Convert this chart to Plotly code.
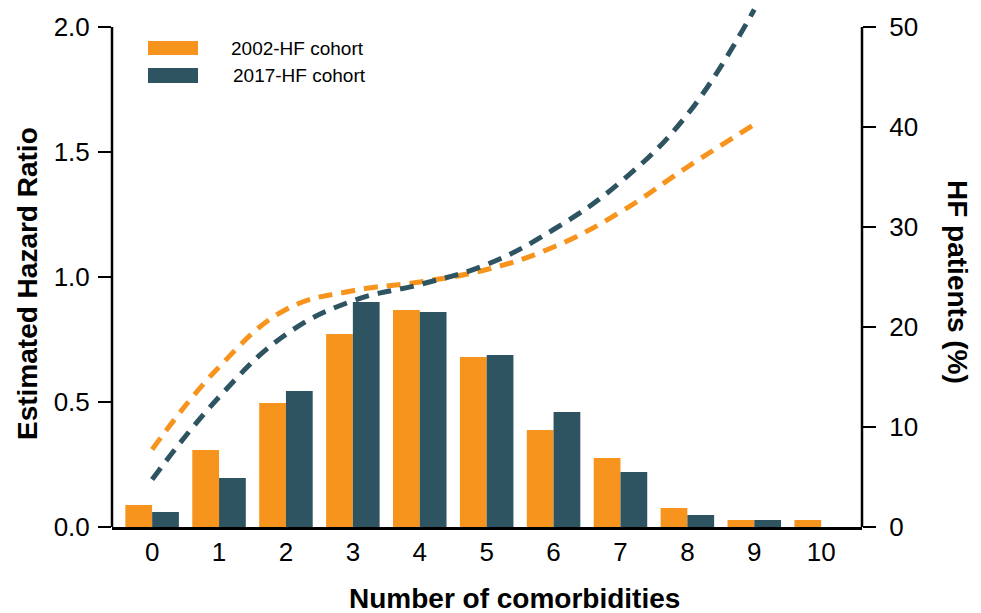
import plotly.graph_objects as go

comorbidities = [0, 1, 2, 3, 4, 5, 6, 7, 8, 9, 10]
pct_2002 = [2.2, 7.7, 12.4, 19.3, 21.7, 17.0, 9.7, 6.9, 1.9, 0.7, 0.7]
pct_2017 = [1.5, 4.9, 13.6, 22.5, 21.5, 17.2, 11.5, 5.5, 1.2, 0.7, 0.0]

hr_x = [0, 1, 2, 3, 4, 5, 6, 7, 8, 9]
hr_2002 = [0.31, 0.64, 0.87, 0.945, 0.98, 1.03, 1.12, 1.26, 1.44, 1.61]
hr_2017 = [0.19, 0.52, 0.77, 0.905, 0.97, 1.05, 1.19, 1.38, 1.65, 2.07]

hr_ticks = [0.0, 0.5, 1.0, 1.5, 2.0]
pct_ticks = [0, 10, 20, 30, 40, 50]
series_names = ["2002-HF cohort", "2017-HF cohort"]

ORANGE = "#F7941E"
TEAL = "#2E5461"
FONT = "Liberation Sans, Arial, sans-serif"

# page offset (browser body margin) is 8px; plot area in page coords: x 112..862, y 8..527
OFF = 8
PLOT_L, PLOT_R, PLOT_T, PLOT_B = 112, 862, 8, 527
W, H = 981 - OFF, 613 - OFF
plot_h = PLOT_B - PLOT_T
hr_top = plot_h / 250.0      # 250 px per HR unit
pct_top = plot_h / 10.0      # 10 px per percent

fig = go.Figure()
fig.add_trace(go.Bar(x=comorbidities, y=pct_2002, name=series_names[0],
                     marker=dict(color=ORANGE, line=dict(width=0)), yaxis="y", showlegend=False))
fig.add_trace(go.Bar(x=comorbidities, y=pct_2017, name=series_names[1],
                     marker=dict(color=TEAL, line=dict(width=0)), yaxis="y", showlegend=False))
fig.add_trace(go.Scatter(x=hr_x, y=hr_2002, mode="lines", yaxis="y2", showlegend=False,
                         line=dict(color=ORANGE, width=5, dash="14px,9px", shape="spline", smoothing=1.2)))
fig.add_trace(go.Scatter(x=hr_x, y=hr_2017, mode="lines", yaxis="y2", showlegend=False,
                         line=dict(color=TEAL, width=5, dash="14px,9px", shape="spline", smoothing=1.2)))

fig.update_layout(
    width=W, height=H,
    margin=dict(l=PLOT_L - OFF, r=W - (PLOT_R - OFF), t=PLOT_T - OFF, b=H - (PLOT_B - OFF), autoexpand=False),
    plot_bgcolor="white", paper_bgcolor="white",
    barmode="group", bargap=0.2, bargroupgap=0,
    font=dict(family=FONT, color="black"),
    xaxis=dict(range=[-0.6, 10.61], tickvals=comorbidities, ticktext=[str(c) for c in comorbidities],
               showline=True, linecolor="black", linewidth=2.5, ticks="", showgrid=False,
               zeroline=False, tickfont=dict(size=26), ticklabelstandoff=0),
    yaxis=dict(side="right", range=[0, pct_top], tickvals=pct_ticks, ticktext=[str(t) for t in pct_ticks],
               showline=False, ticks="outside", ticklen=13, tickwidth=2, tickcolor="black",
               showgrid=False, zeroline=False, tickfont=dict(size=26), ticklabelstandoff=8),
    yaxis2=dict(side="left", overlaying="y", range=[0, hr_top], tickvals=hr_ticks,
                ticktext=[f"{t:.1f}" for t in hr_ticks],
                showline=False, ticks="outside", ticklen=13, tickwidth=2, tickcolor="black",
                showgrid=False, zeroline=False, tickfont=dict(size=26), ticklabelstandoff=3),
)

# axis lines ending at the top tick
fig.add_shape(type="line", xref="paper", yref="y2", x0=0, x1=0, y0=0, y1=2.0,
              line=dict(color="black", width=2.5))
fig.add_shape(type="line", xref="paper", yref="y2", x0=1, x1=1, y0=0, y1=2.0,
              line=dict(color="black", width=2.5))

# manual legend (page pixel -> paper coords)
def px_x(p):
    return (p - PLOT_L) / (PLOT_R - PLOT_L)
def px_y(p):
    return (PLOT_B - p) / plot_h

fig.add_shape(type="rect", xref="paper", yref="paper", x0=px_x(148), x1=px_x(198),
              y0=px_y(55), y1=px_y(41), fillcolor=ORANGE, line=dict(width=0))
fig.add_shape(type="rect", xref="paper", yref="paper", x0=px_x(148), x1=px_x(198),
              y0=px_y(83), y1=px_y(68), fillcolor=TEAL, line=dict(width=0))
fig.add_annotation(xref="paper", yref="paper", x=px_x(229), y=px_y(48), text=series_names[0],
                   showarrow=False, xanchor="left", yanchor="middle", font=dict(size=19))
fig.add_annotation(xref="paper", yref="paper", x=px_x(231), y=px_y(76), text=series_names[1],
                   showarrow=False, xanchor="left", yanchor="middle", font=dict(size=19))

# axis titles
fig.add_annotation(xref="paper", yref="paper", x=px_x(27), y=px_y(284), text="<b>Estimated Hazard Ratio</b>",
                   showarrow=False, textangle=-90, xanchor="center", yanchor="middle", font=dict(size=28))
fig.add_annotation(xref="paper", yref="paper", x=px_x(957), y=px_y(282), text="<b>HF patients (%)</b>",
                   showarrow=False, textangle=90, xanchor="center", yanchor="middle", font=dict(size=28))
fig.add_annotation(xref="paper", yref="paper", x=px_x(514), y=px_y(598), text="<b>Number of comorbidities</b>",
                   showarrow=False, xanchor="center", yanchor="middle", font=dict(size=28))

fig.write_html("out.html")
